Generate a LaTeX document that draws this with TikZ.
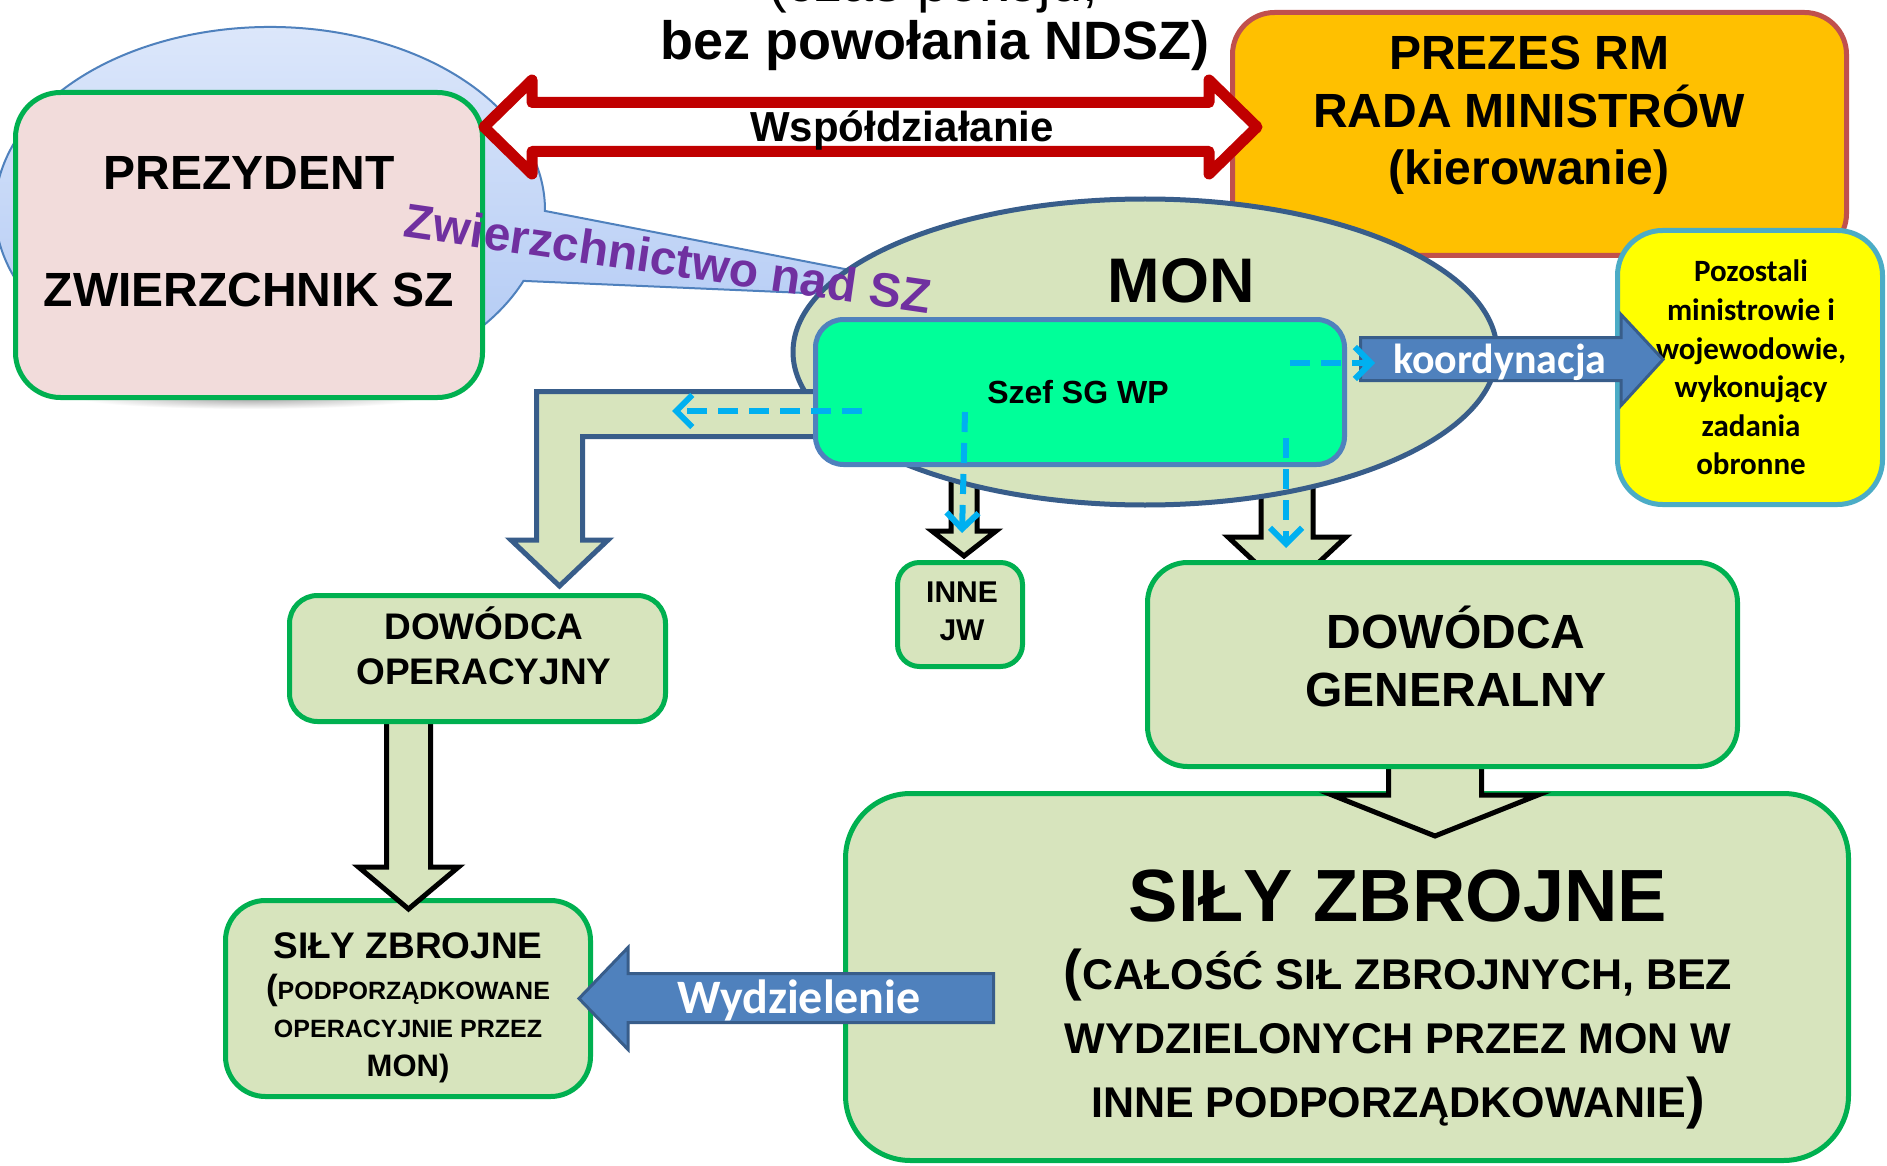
\documentclass[tikz,border=0pt]{standalone}
\usepackage{fontspec}
\setmainfont{Liberation Sans}
\newfontfamily\calib{Carlito}
\usetikzlibrary{shapes.geometric,arrows.meta}
\definecolor{gborder}{HTML}{00B050}
\definecolor{lgreen}{HTML}{D7E4BD}
\definecolor{pinkf}{HTML}{F2DCDB}
\definecolor{orangef}{HTML}{FFC000}
\definecolor{oborder}{HTML}{C0504D}
\definecolor{yellowf}{HTML}{FFFF00}
\definecolor{yborder}{HTML}{4BACC6}
\definecolor{szeff}{HTML}{00FF99}
\definecolor{bluef}{HTML}{4F81BD}
\definecolor{blueb}{HTML}{385D8A}
\definecolor{cyanl}{HTML}{00B0F0}
\definecolor{redl}{HTML}{C00000}
\definecolor{purp}{HTML}{7030A0}
\definecolor{calltop}{HTML}{DFE9FB}
\definecolor{callbot}{HTML}{ABC5F3}
\newcommand\fsz[1]{\fontsize{#1}{#1}\selectfont}
\begin{document}
\begin{tikzpicture}[x=1pt,y=-1pt,
  box/.style={shape=rectangle, inner sep=0pt, line width=5pt},
  greenbox/.style={box, draw=gborder, fill=lgreen},
  txt/.style={inner sep=0pt, anchor=base, font=\bfseries},
  blackarr/.style={draw=black, fill=lgreen, line width=5pt, line join=miter},
  bluearr/.style={draw=blueb, fill=bluef, line width=3pt},
  dasharr/.style={draw=cyanl, line width=6pt, dash pattern=on 20pt off 11pt,
    -{Straight Barb[length=16pt,width=32pt]}}]
\useasboundingbox (0,0) rectangle (1887,1166);
\fill[white] (0,0) rectangle (1887,1166);

% callout ellipse with tail
\coordinate (tailtip) at (1015,302);
\shade[top color=calltop, bottom color=callbot, draw=bluef, line width=2pt]
  (tailtip) -- (523.5,280.9) arc[start angle=22.8, end angle=360.3, x radius=275, y radius=183] -- cycle;

% soft shadow under the president box
\shade[inner color=black!35, outer color=white] (250,398) ellipse [x radius=170, y radius=11];

% pink president box
\node[box, draw=gborder, fill=pinkf, rounded corners=45pt, minimum width=467pt, minimum height=305pt] (prez) at (249,245) {};
\node[txt, font=\bfseries\fsz{48}] (prezt1) at (249,190) {PREZYDENT};
\node[txt, font=\bfseries\fsz{48}] (prezt2) at (249,306) {ZWIERZCHNIK SZ};

% orange box
\node[box, draw=oborder, fill=orangef, rounded corners=42pt, minimum width=614pt, minimum height=243pt] (rm) at (1539.5,134) {};
\node[txt, font=\bfseries\fsz{48}] (rmt1) at (1529,70) {PREZES RM};
\node[txt, font=\bfseries\fsz{48}] (rmt2) at (1529,128) {RADA MINISTRÓW};
\node[txt, font=\bfseries\fsz{48}] (rmt3) at (1529,185) {(kierowanie)};

% black arrows starting under MON
\draw[blackarr] (951,450) -- (951,531) -- (932,531) -- (964,556) -- (996,531) -- (977,531) -- (977,450) -- cycle;
\draw[blackarr] (1261,450) -- (1261,537) -- (1228,537) -- (1287,592) -- (1346,537) -- (1313,537) -- (1313,450) -- cycle;

% MON ellipse
\node[ellipse, draw=blueb, fill=lgreen, line width=5pt, inner sep=0pt, minimum width=704pt, minimum height=306pt] (mon) at (1145,352) {};
\node[txt, font=\bfseries\fsz{63}] (mont) at (1181,302) {MON};

% yellow box
\node[box, draw=yborder, fill=yellowf, rounded corners=45pt, minimum width=265pt, minimum height=274pt] (poz) at (1750,367.5) {};
\node[txt, font=\calib\bfseries\fsz{31}] (poz1) at (1751,282) {Pozostali};
\node[txt, font=\calib\bfseries\fsz{31}] (poz2) at (1751,320.5) {ministrowie i};
\node[txt, font=\calib\bfseries\fsz{31}] (poz3) at (1751,359) {wojewodowie,};
\node[txt, font=\calib\bfseries\fsz{31}] (poz4) at (1751,397.5) {wykonujący};
\node[txt, font=\calib\bfseries\fsz{31}] (poz5) at (1751,436) {zadania};
\node[txt, font=\calib\bfseries\fsz{31}] (poz6) at (1751,474.5) {obronne};

% bent arrow to Dowodca Operacyjny
\draw[draw=blueb, fill=lgreen, line width=5pt] (850,391.5) -- (536.5,391.5) -- (536.5,540) -- (511,540) -- (559.5,586) -- (608,540) -- (582.5,540) -- (582.5,436.5) -- (850,436.5) -- cycle;

% Szef SG WP
\node[box, draw=bluef, fill=szeff, rounded corners=28pt, minimum width=529pt, minimum height=145pt] (szef) at (1080,392) {};
\node[txt, font=\bfseries\fsz{32}] (szeft) at (1078,403) {Szef SG WP};

% koordynacja arrow
\draw[bluearr] (1360.5,337.5) -- (1621,337.5) -- (1621,314.5) -- (1663,359.5) -- (1621,405.5) -- (1621,380.5) -- (1360.5,380.5) -- cycle;
\node[txt, font=\calib\bfseries\fsz{42}, text=white] (koord) at (1500,373) {koordynacja};

% dashed cyan arrows
\coordinate (d1s) at (862,411); \coordinate (d1e) at (672,411);
\coordinate (d2s) at (965,412); \coordinate (d2e) at (962,533);
\coordinate (d3s) at (1286,438); \coordinate (d3e) at (1286,548);
\coordinate (d4s) at (1290,363); \coordinate (d4e) at (1375,363);
\draw[dasharr] (d1s) -- (d1e);
\draw[dasharr] (d2s) -- (d2e);
\draw[dasharr] (d3s) -- (d3e);
\draw[dasharr] (d4s) -- (d4e);

% red double arrow
\draw[draw=redl, fill=white, line width=11pt, line join=round]
  (484,127) -- (532,80) -- (532,102.5) -- (1209,102.5) -- (1209,80) -- (1257,127) -- (1209,174) -- (1209,151.5) -- (532,151.5) -- (532,174) -- cycle;
\node[txt, font=\bfseries\fsz{42}] (wsp) at (902,142) {Współdziałanie};

% top texts
\node[txt, font=\fsz{56}] (czas) at (933,2) {(czas pokoju,};
\node[txt, font=\bfseries\fsz{54}] (bez) at (935,60) {bez powołania NDSZ)};

% Zwierzchnictwo label
\node[inner sep=0pt, font=\bfseries\fsz{48}, text=purp, rotate=-8.3] (zw) at (668,258) {Zwierzchnictwo nad SZ};

% INNE JW
\node[greenbox, rounded corners=22pt, minimum width=125pt, minimum height=104pt] (inne) at (960,614.5) {};
\node[txt, font=\bfseries\fsz{30}] (inne1) at (962,602) {INNE};
\node[txt, font=\bfseries\fsz{30}] (inne2) at (962,640) {JW};

% SZ big box and arrow from DG
\node[greenbox, rounded corners=65pt, minimum width=1003pt, minimum height=367pt] (szb) at (1347,977) {};
\draw[blackarr] (1388.5,740) -- (1388.5,795) -- (1332,795) -- (1435,836) -- (1538,795) -- (1481.5,795) -- (1481.5,740) -- cycle;
\node[greenbox, rounded corners=40pt, minimum width=590pt, minimum height=204pt] (dg) at (1442.5,664.5) {};
\node[txt, font=\bfseries\fsz{48}] (dg1) at (1456,648) {DOWÓDCA};
\node[txt, font=\bfseries\fsz{48}] (dg2) at (1456,706) {GENERALNY};
\node[txt, font=\bfseries\fsz{74}] (szb1) at (1398,921) {SIŁY ZBROJNE};
\node[txt, font=\bfseries\fsz{43}] (szb2) at (1398,989) {{\fsz{56}(}CAŁOŚĆ SIŁ ZBROJNYCH, BEZ};
\node[txt, font=\bfseries\fsz{43}] (szb3) at (1398,1053) {WYDZIELONYCH PRZEZ MON W};
\node[txt, font=\bfseries\fsz{43}] (szb4) at (1398,1117) {INNE PODPORZĄDKOWANIE{\fsz{56})}};

% SZ small box and arrow from DO
\node[greenbox, rounded corners=40pt, minimum width=365pt, minimum height=196pt] (szs) at (408,998.5) {};
\draw[blackarr] (386.5,700) -- (386.5,867) -- (358.5,867) -- (408.5,909) -- (458.5,867) -- (430.5,867) -- (430.5,700) -- cycle;
\node[greenbox, rounded corners=28pt, minimum width=376pt, minimum height=126pt] (do) at (477.5,658.5) {};
\node[txt, font=\bfseries\fsz{37}] (do1) at (484,639) {DOWÓDCA};
\node[txt, font=\bfseries\fsz{37}] (do2) at (484,684) {OPERACYJNY};
\node[txt, font=\bfseries\fsz{37}] (szs1) at (408,958) {SIŁY ZBROJNE};
\node[txt, font=\bfseries\fsz{25}] (szs2) at (408,999) {{\fsz{35}(}PODPORZĄDKOWANE};
\node[txt, font=\bfseries\fsz{25}] (szs3) at (408,1037) {OPERACYJNIE PRZEZ};
\node[txt, font=\bfseries\fsz{31}] (szs4) at (408,1076) {MON)};

% Wydzielenie arrow
\draw[bluearr] (579,998.5) -- (628,947.5) -- (628,973.5) -- (993.5,973.5) -- (993.5,1022.5) -- (628,1022.5) -- (628,1049.5) -- cycle;
\node[txt, font=\calib\bfseries\fsz{48}, text=white] (wydz) at (799,1013) {Wydzielenie};
\end{tikzpicture}
\end{document}
